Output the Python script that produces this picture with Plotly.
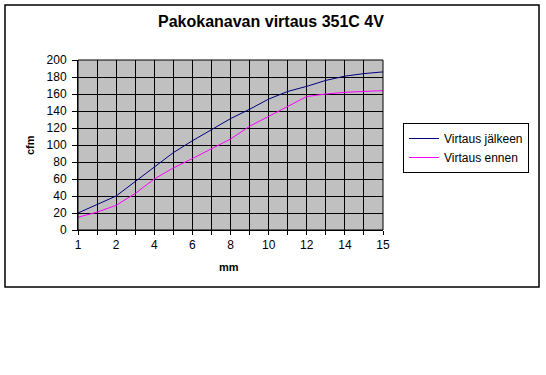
import plotly.graph_objects as go

# Data (categorical x-axis, 17 categories; only every other label shown)
categories = ["1", "1.5", "2", "3", "4", "5", "6", "7", "8", "9", "10",
              "11", "12", "13", "14", "14.5", "15"]
tick_labels = ["1", "", "2", "", "4", "", "6", "", "8", "", "10",
               "", "12", "", "14", "", "15"]
virtaus_jalkeen = [20, 30, 40, 57, 74, 91, 105, 118, 131, 142, 154,
                   163, 169, 176, 181, 184, 186]
virtaus_ennen = [15, 21, 29, 43, 60, 73, 84, 96, 107, 122, 134,
                 146, 157, 160, 162, 163, 164]

FONT = "Liberation Sans, Arial, sans-serif"

fig = go.Figure()
fig.add_trace(go.Scatter(x=categories, y=virtaus_jalkeen, mode="lines",
                         name="Virtaus jälkeen",
                         line=dict(color="#000080", width=1)))
fig.add_trace(go.Scatter(x=categories, y=virtaus_ennen, mode="lines",
                         name="Virtaus ennen",
                         line=dict(color="#FF00FF", width=1)))

L, R, T, B = 78, 163, 60, 145
W, H = 546, 375
pw, ph = W - L - R, H - T - B

def px(x):
    return (x - L) / pw

def py(y):
    return (H - B - y) / ph

fig.update_layout(
    width=W, height=H,
    margin=dict(l=L, r=R, t=T, b=B, pad=0),
    paper_bgcolor="white",
    plot_bgcolor="#C0C0C0",
    font=dict(family=FONT, size=11, color="black"),
    showlegend=True,
    legend=dict(x=px(403), y=py(123), xanchor="left", yanchor="top",
                bgcolor="white", bordercolor="black", borderwidth=1,
                font=dict(family=FONT, size=12, color="black"),
                tracegroupgap=0, itemwidth=30),
)

fig.update_xaxes(
    type="category",
    categoryorder="array", categoryarray=categories,
    tickmode="array", tickvals=categories, ticktext=tick_labels,
    range=[0, len(categories) - 1],
    showgrid=True, gridcolor="black", gridwidth=1,
    showline=True, linecolor="black", linewidth=1, mirror=False,
    ticks="outside", ticklen=4, tickcolor="black",
    tickfont=dict(family=FONT, size=12, color="black"),
    zeroline=False,
)
fig.update_yaxes(
    range=[0, 200], dtick=20, tick0=0,
    showgrid=True, gridcolor="black", gridwidth=1,
    showline=True, linecolor="black", linewidth=1,
    ticks="outside", ticklen=5, tickcolor="black",
    ticklabelstandoff=3,
    tickfont=dict(family=FONT, size=12, color="black"),
    zeroline=False,
)

# Outer chart border
fig.add_shape(type="rect", xref="paper", yref="paper",
              x0=px(5), x1=px(539), y0=py(287), y1=py(5),
              line=dict(color="black", width=1.5), fillcolor="rgba(0,0,0,0)",
              layer="above")
# Plot-area border (right/top)
fig.add_shape(type="rect", xref="paper", yref="paper",
              x0=0, x1=1, y0=0, y1=1,
              line=dict(color="black", width=1), fillcolor="rgba(0,0,0,0)",
              layer="above")

fig.add_annotation(text="<b>Pakokanavan virtaus 351C 4V</b>",
                   xref="paper", yref="paper", x=px(271), y=py(22),
                   xanchor="center", yanchor="middle", showarrow=False,
                   font=dict(family=FONT, size=16, color="black"))
fig.add_annotation(text="<b>mm</b>", xref="paper", yref="paper",
                   x=px(229), y=py(267), xanchor="center", yanchor="middle",
                   showarrow=False, font=dict(family=FONT, size=11, color="black"))
fig.add_annotation(text="<b>cfm</b>", xref="paper", yref="paper",
                   x=px(30), y=py(145), xanchor="center", yanchor="middle",
                   textangle=-90, showarrow=False,
                   font=dict(family=FONT, size=11, color="black"))

fig.write_html("out.html")
